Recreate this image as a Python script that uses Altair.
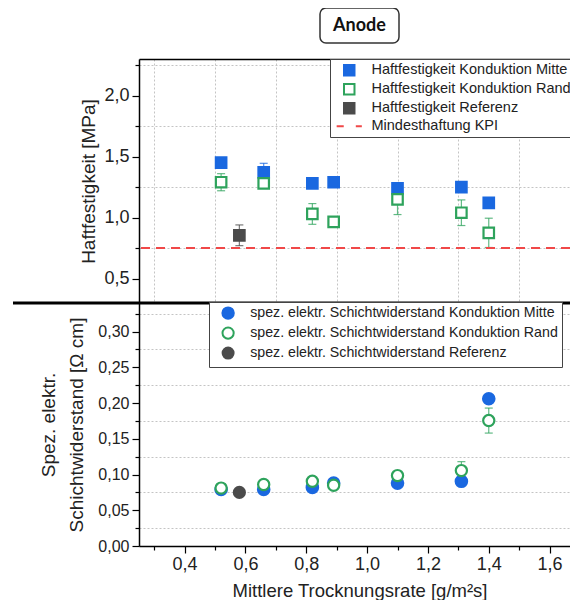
import altair as alt
import pandas as pd

# ---------------- data ----------------
x_rate = [0.52, 0.66, 0.82, 0.89, 1.10, 1.31, 1.40]
x_ref = [0.58]

haft_mitte = [1.45, 1.37, 1.28, 1.29, 1.24, 1.25, 1.12]
haft_mitte_err = [0.02, 0.075, 0.02, 0.02, 0.02, 0.02, 0.02]
haft_rand = [1.29, 1.28, 1.03, 0.965, 1.15, 1.04, 0.875]
haft_rand_err = [0.07, 0.02, 0.085, 0.02, 0.125, 0.105, 0.12]
haft_ref = [0.855]
haft_ref_err = [0.085]
kpi_value = [0.75]

wid_mitte = [0.079, 0.079, 0.082, 0.088, 0.088, 0.0905, 0.206]
wid_mitte_err = [0.002, 0.002, 0.002, 0.002, 0.002, 0.002, 0.002]
wid_rand = [0.081, 0.086, 0.0905, 0.085, 0.0985, 0.1055, 0.1755]
wid_rand_err = [0.002, 0.002, 0.002, 0.002, 0.003, 0.0125, 0.0175]
wid_ref = [0.075]
wid_ref_err = [0.002]

top_series = ["Haftfestigkeit Konduktion Mitte", "Haftfestigkeit Konduktion Rand",
              "Haftfestigkeit Referenz", "Mindesthaftung KPI"]
bot_series = ["spez. elektr. Schichtwiderstand Konduktion Mitte",
              "spez. elektr. Schichtwiderstand Konduktion Rand",
              "spez. elektr. Schichtwiderstand Referenz"]

x_major = [0.4, 0.6, 0.8, 1.0, 1.2, 1.4, 1.6]
x_minor = [0.3, 0.5, 0.7, 0.9, 1.1, 1.3, 1.5, 1.7]
top_y_major = [0.5, 1.0, 1.5, 2.0]
top_y_minor = [0.75, 1.25, 1.75, 2.25]
bot_y_major = [0.0, 0.05, 0.10, 0.15, 0.20, 0.25, 0.30]
bot_y_minor = [0.025, 0.075, 0.125, 0.175, 0.225, 0.275, 0.325]

x_domain = [0.25, 1.7]
top_y_domain = [0.3, 2.3]
bot_y_domain = [0.0, 0.34]
title_text = ["Anode"]

# ---------------- style / layout ----------------
BLUE = "#1a68e0"
GREEN = "#2ea35c"
DARK = "#4b4b4b"
RED = "#f04848"
FONT = "Liberation Sans"
PLOT_W = 441          # full x range (right part is cut by the page edge, as in the original)
VIEW_W = 431
H_TOP = 244
H_BOT = 243
H_ALL = H_TOP + H_BOT
DASH_PATH = "M-2.4,0H-1.05M1.25,0H2.4"


def rows(xs, ys, errs, series, order):
    return pd.DataFrame({"x": xs, "y": ys,
                         "lo": [a - b for a, b in zip(ys, errs)],
                         "hi": [a + b for a, b in zip(ys, errs)],
                         "series": [series] * len(xs), "ord": [order] * len(xs)})


df_top = pd.concat([
    rows(x_rate, haft_mitte, haft_mitte_err, top_series[0], 0),
    rows(x_ref, haft_ref, haft_ref_err, top_series[2], 1),
    rows(x_rate, haft_rand, haft_rand_err, top_series[1], 2),
], ignore_index=True)

df_bot = pd.concat([
    rows(x_rate, wid_mitte, wid_mitte_err, bot_series[0], 0),
    rows(x_ref, wid_ref, wid_ref_err, bot_series[2], 1),
    rows(x_rate, wid_rand, wid_rand_err, bot_series[1], 2),
], ignore_index=True)

xscale = alt.Scale(domain=x_domain, range=[0, PLOT_W], nice=False, zero=False)
ytop = alt.Scale(domain=top_y_domain, range=[H_TOP, 0], nice=False, zero=False)
ybot = alt.Scale(domain=bot_y_domain, range=[H_ALL, H_TOP], nice=False, zero=False)

fmt1 = "replace(format(datum.value, '.1f'), '.', ',')"
fmt2 = "replace(format(datum.value, '.2f'), '.', ',')"

grid_common = dict(grid=True, gridColor="#c4c4c4", gridDash=[2, 2], gridWidth=1,
                   labels=False, domain=False, title=None)

# ---- axes ----
ax_top_y_main = alt.Axis(orient="left", values=top_y_major, labelExpr=fmt1, grid=False,
                         tickSize=7, tickWidth=1.2, tickColor="black", domainColor="black",
                         domainWidth=1.5, labelFont=FONT, labelFontSize=18, labelColor="#222",
                         labelPadding=3, title="Haftfestigkeit [MPa]", titleFont=FONT,
                         titleFontSize=19, titleFontWeight="normal", titleColor="#222",
                         titleX=-51, titleY=H_TOP / 2, titleAngle=-90, titleAlign="center",
                         titleBaseline="middle")
ax_top_y_minor = alt.Axis(orient="left", values=top_y_minor, tickSize=4, tickWidth=1.2,
                          tickColor="black", **grid_common)
ax_top_x_frame = alt.Axis(orient="top", values=x_major, ticks=False, labels=False, grid=False,
                          domain=True, domainColor="black", domainWidth=1.5, title=None)

ax_bot_y_main = alt.Axis(orient="left", values=bot_y_major, labelExpr=fmt2, grid=False,
                         tickSize=7, tickWidth=1.2, tickColor="black", domainColor="black",
                         domainWidth=1.5, labelFont=FONT, labelFontSize=16, labelColor="#222",
                         labelPadding=3, title=["Spez. elektr.", "Schichtwiderstand [\u03a9 cm]"],
                         titleFont=FONT, titleFontSize=19, titleFontWeight="normal",
                         titleColor="#222", titleLineHeight=28, titleX=-91,
                         titleY=H_TOP + H_BOT / 2, titleAngle=-90, titleAlign="center",
                         titleBaseline="middle")
ax_bot_y_minor = alt.Axis(orient="left", values=bot_y_minor, tickSize=4, tickWidth=1.2,
                          tickColor="black", **grid_common)
ax_bot_x_main = alt.Axis(orient="bottom", values=x_major, labelExpr=fmt1, grid=False,
                         tickSize=7, tickWidth=1.2, tickColor="black", domainColor="black",
                         domainWidth=1.5, labelFont=FONT, labelFontSize=18, labelColor="#222",
                         labelPadding=2, title="Mittlere Trocknungsrate [g/m\u00b2s]",
                         titleFont=FONT, titleFontSize=18.5, titleFontWeight="normal",
                         titleColor="#222", titleY=44, titleBaseline="middle")
ax_bot_x_minor = alt.Axis(orient="bottom", values=x_minor, tickSize=4, tickWidth=1.2,
                          tickColor="black", **grid_common)


# ---- legends ----
def legend(x, y, fs):
    return alt.Legend(title=None, orient="none", legendX=x, legendY=y, strokeColor="#444",
                      fillColor="white", padding=4, labelFont=FONT, labelFontSize=fs,
                      labelColor="#222", symbolStrokeWidth=2, rowPadding=0, labelOffset=15,
                      symbolOffset=8, labelLimit=400)


leg_top = legend(191, 0, 14.5)
leg_bot = legend(70, H_TOP - 1, 14.2)

top_color = alt.Scale(domain=top_series, range=[BLUE, GREEN, DARK, RED])
bot_color = alt.Scale(domain=bot_series, range=[BLUE, GREEN, DARK])

# ---------------- top panel layers ----------------
top_err = alt.Chart(df_top).mark_rule(strokeWidth=1.2, opacity=0.75).encode(
    x=alt.X("x:Q", scale=xscale, axis=None),
    y=alt.Y("lo:Q", scale=ytop, axis=ax_top_y_minor),
    y2="hi:Q",
    color=alt.Color("series:N", scale=top_color, legend=None),
)
top_cap_lo = alt.Chart(df_top).mark_tick(orient="horizontal", size=8, thickness=1.2,
                                         opacity=0.75).encode(
    x=alt.X("x:Q", scale=xscale, axis=None),
    y=alt.Y("lo:Q", scale=ytop, axis=None),
    color=alt.Color("series:N", scale=top_color, legend=None),
)
top_cap_hi = top_cap_lo.encode(y=alt.Y("hi:Q", scale=ytop, axis=None))

kpi_rule = alt.Chart(pd.DataFrame({"kpi": kpi_value})).mark_rule(
    color=RED, strokeDash=[9, 6], strokeWidth=2).encode(
    y=alt.Y("kpi:Q", scale=ytop, axis=None))

top_pts = alt.Chart(df_top).mark_point(filled=False, opacity=1, strokeWidth=2.2).encode(
    x=alt.X("x:Q", scale=xscale, axis=ax_top_x_frame),
    y=alt.Y("y:Q", scale=ytop, axis=ax_top_y_main),
    stroke=alt.Stroke("series:N", scale=top_color, legend=leg_top),
    fill=alt.Fill("series:N", scale=alt.Scale(domain=top_series,
                                              range=[BLUE, "white", DARK, "transparent"]),
                  legend=leg_top),
    shape=alt.Shape("series:N", scale=alt.Scale(domain=top_series,
                                                range=["square", "square", "square", DASH_PATH]),
                    legend=leg_top),
    size=alt.Size("series:N", scale=alt.Scale(domain=top_series, range=[110, 110, 110, 110]),
                  legend=leg_top),
    order=alt.Order("ord:Q"),
)

# ---------------- bottom panel layers ----------------
bot_err = alt.Chart(df_bot).mark_rule(strokeWidth=1.2, opacity=0.75).encode(
    x=alt.X("x:Q", scale=xscale, axis=ax_bot_x_minor),
    y=alt.Y("lo:Q", scale=ybot, axis=ax_bot_y_minor),
    y2="hi:Q",
    color=alt.Color("series:N", scale=bot_color, legend=None),
)
bot_cap_lo = alt.Chart(df_bot).mark_tick(orient="horizontal", size=8, thickness=1.2,
                                         opacity=0.75).encode(
    x=alt.X("x:Q", scale=xscale, axis=None),
    y=alt.Y("lo:Q", scale=ybot, axis=None),
    color=alt.Color("series:N", scale=bot_color, legend=None),
)
bot_cap_hi = bot_cap_lo.encode(y=alt.Y("hi:Q", scale=ybot, axis=None))

bot_pts = alt.Chart(df_bot).mark_point(filled=False, opacity=1, strokeWidth=2.2).encode(
    x=alt.X("x:Q", scale=xscale, axis=ax_bot_x_main),
    y=alt.Y("y:Q", scale=ybot, axis=ax_bot_y_main),
    stroke=alt.Stroke("series:N", scale=bot_color, legend=leg_bot),
    fill=alt.Fill("series:N", scale=alt.Scale(domain=bot_series, range=[BLUE, "white", DARK]),
                  legend=leg_bot),
    shape=alt.Shape("series:N", scale=alt.Scale(domain=bot_series,
                                                range=["circle", "circle", "circle"]),
                    legend=leg_bot),
    size=alt.Size("series:N", scale=alt.Scale(domain=bot_series, range=[130, 121, 130]),
                  legend=leg_bot),
    order=alt.Order("ord:Q"),
)

# ---------------- decorations ----------------
sep_rule = alt.Chart(pd.DataFrame({"k": [0]})).mark_rule(color="black", strokeWidth=3).encode(
    x=alt.value(-126), x2=alt.value(PLOT_W), y=alt.value(H_TOP))

title_box = alt.Chart(pd.DataFrame({"t": title_text})).mark_rect(
    fill="white", stroke="#333", strokeWidth=1.5, cornerRadius=6).encode(
    x=alt.value(181), x2=alt.value(260), y=alt.value(-51), y2=alt.value(-16))
title_txt = alt.Chart(pd.DataFrame({"t": title_text})).mark_text(
    font="Lato", fontWeight="bold", fontSize=18, color="#111", baseline="middle").encode(
    text="t:N", x=alt.value(220.5), y=alt.value(-33))

chart = alt.layer(
    bot_err, bot_cap_lo, bot_cap_hi, top_err, top_cap_lo, top_cap_hi, kpi_rule,
    top_pts, bot_pts, sep_rule, title_box, title_txt
).resolve_scale(
    y="independent", color="independent", stroke="independent", fill="independent",
    shape="independent", size="independent"
).resolve_axis(
    x="independent", y="independent"
).resolve_legend(
    color="independent", stroke="independent", fill="independent", shape="independent",
    size="independent"
).properties(
    width=VIEW_W, height=H_ALL,
    autosize=alt.AutoSizeParams(type="none"),
    padding={"left": 131, "top": 51, "right": 0, "bottom": 54},
).configure_view(stroke=None).configure(font=FONT, background="white")

chart.save("out.html", embed_options={"renderer": "svg", "actions": False})
